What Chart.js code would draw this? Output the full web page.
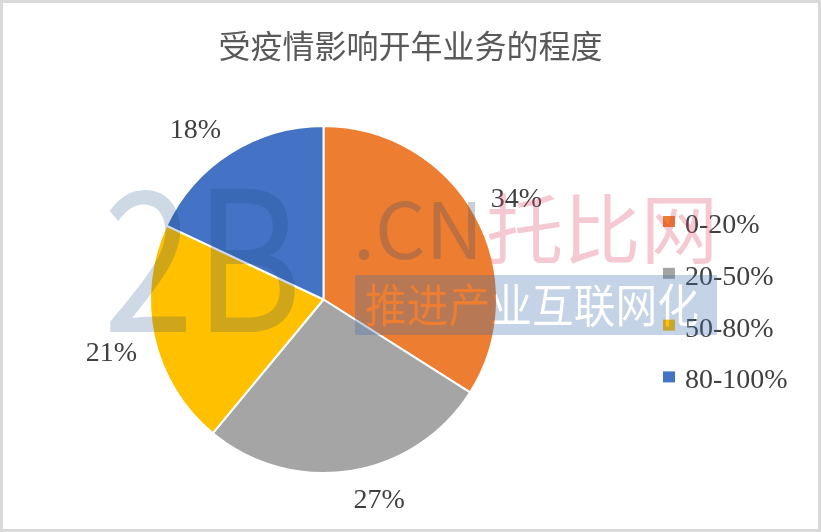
<!DOCTYPE html>
<html>
<head>
<meta charset="utf-8">
<script src="https://cdn.jsdelivr.net/npm/chart.js@4.4.0/dist/chart.umd.min.js"></script>
<style>
	html, body { margin: 0; padding: 0; background: #fff; }
	#wrap { width: 821px; height: 532px; }
</style>
</head>
<body>
<div id="wrap"><canvas id="chart" width="821" height="532"></canvas></div>
<script>
const chartTitle = '受疫情影响开年业务的程度';
const categories = ['0-20%', '20-50%', '50-80%', '80-100%'];
const shares = [34, 27, 21, 18];
const sliceColors = ['#ED7D31', '#A5A5A5', '#FFC000', '#4472C4'];

const SERIF = '28px "Liberation Serif", "Times New Roman", serif';
const CJK = '"Noto Sans CJK SC", "Noto Sans", sans-serif';

// draws text stretched / squeezed to a given width
function fitText(ctx, text, x, y, width) {
	const w = ctx.measureText(text).width;
	ctx.save();
	ctx.translate(x, y);
	ctx.scale(width / w, 1);
	ctx.fillText(text, 0, 0);
	ctx.restore();
}

const framePlugin = {
	id: 'frame',
	beforeDraw(chart) {
		const ctx = chart.ctx;
		ctx.save();
		ctx.fillStyle = '#fff';
		ctx.fillRect(0, 0, chart.width, chart.height);
		ctx.strokeStyle = '#d9d9d9';
		ctx.lineWidth = 3;
		ctx.strokeRect(1.5, 1.5, chart.width - 3, chart.height - 3);

		ctx.font = '32px ' + CJK;
		ctx.fillStyle = '#595959';
		ctx.textAlign = 'center';
		ctx.textBaseline = 'middle';
		ctx.fillText(chartTitle, chart.width / 2, 46);
		ctx.restore();
	}
};

// percentage labels outside end + legend on the right
const labelPlugin = {
	id: 'pieLabels',
	afterDatasetsDraw(chart) {
		const ctx = chart.ctx;
		const meta = chart.getDatasetMeta(0);
		ctx.save();
		ctx.font = SERIF;
		ctx.fillStyle = '#404040';
		ctx.textAlign = 'center';
		ctx.textBaseline = 'alphabetic';
		meta.data.forEach(function(arc, i) {
			const p = arc.getProps(['x', 'y', 'startAngle', 'endAngle', 'outerRadius']);
			const mid = (p.startAngle + p.endAngle) / 2;
			const dx = Math.cos(mid);
			const dy = Math.sin(mid);
			const text = shares[i] + '%';
			const w = ctx.measureText(text).width;
			const h = 20;
			const d = p.outerRadius + 17.5;
			const cx = p.x + dx * d + Math.sign(dx) * w / 2;
			const cy = p.y + dy * d + Math.sign(dy) * h / 2;
			ctx.fillText(text, cx, cy + 9.5);
		});

		// legend
		ctx.textAlign = 'left';
		categories.forEach(function(name, i) {
			const cy = 223.5 + i * 51.8;
			ctx.fillStyle = sliceColors[i];
			ctx.fillRect(663, cy - 7.5, 12, 11);
			ctx.fillStyle = '#404040';
			ctx.fillText(name, 685, cy + 9.5);
		});
		ctx.restore();
	}
};

const watermarkPlugin = {
	id: 'watermark',
	afterDraw(chart) {
		const ctx = chart.ctx;
		ctx.save();
		ctx.textAlign = 'left';
		ctx.textBaseline = 'alphabetic';

		ctx.font = '195px ' + CJK;
		ctx.fillStyle = 'rgba(15,65,125,0.2)';
		fitText(ctx, '2B', 103, 332, 199);

		ctx.font = '78px ' + CJK;
		ctx.fillStyle = 'rgba(60,80,110,0.28)';
		fitText(ctx, '.CN', 353, 259, 130);

		ctx.font = '76px ' + CJK;
		ctx.fillStyle = 'rgba(220,60,90,0.28)';
		ctx.textBaseline = 'middle';
		fitText(ctx, '托比网', 486, 229, 232);

		// banner with knocked-out text
		const bw = 362, bh = 60;
		const off = document.createElement('canvas');
		off.width = bw;
		off.height = bh;
		const o = off.getContext('2d');
		o.fillStyle = 'rgba(60,110,170,0.3)';
		o.fillRect(0, 0, bw, bh);
		o.globalCompositeOperation = 'destination-out';
		o.fillStyle = '#000';
		o.font = '46px ' + CJK;
		o.textBaseline = 'middle';
		fitText(o, '推进产业互联网化', 10, 30, 334);
		ctx.drawImage(off, 355, 275);
		ctx.restore();
	}
};

new Chart(document.getElementById('chart'), {
	type: 'pie',
	data: {
		labels: categories,
		datasets: [{
			data: shares,
			backgroundColor: sliceColors,
			borderColor: '#fff',
			borderWidth: 2,
			hoverOffset: 0
		}]
	},
	options: {
		responsive: false,
		animation: false,
		events: [],
		layout: {
			padding: {left: 149, right: 323, top: 125, bottom: 58}
		},
		plugins: {
			legend: {display: false},
			title: {display: false},
			tooltip: {enabled: false}
		}
	},
	plugins: [framePlugin, labelPlugin, watermarkPlugin]
});
</script>
</body>
</html>
